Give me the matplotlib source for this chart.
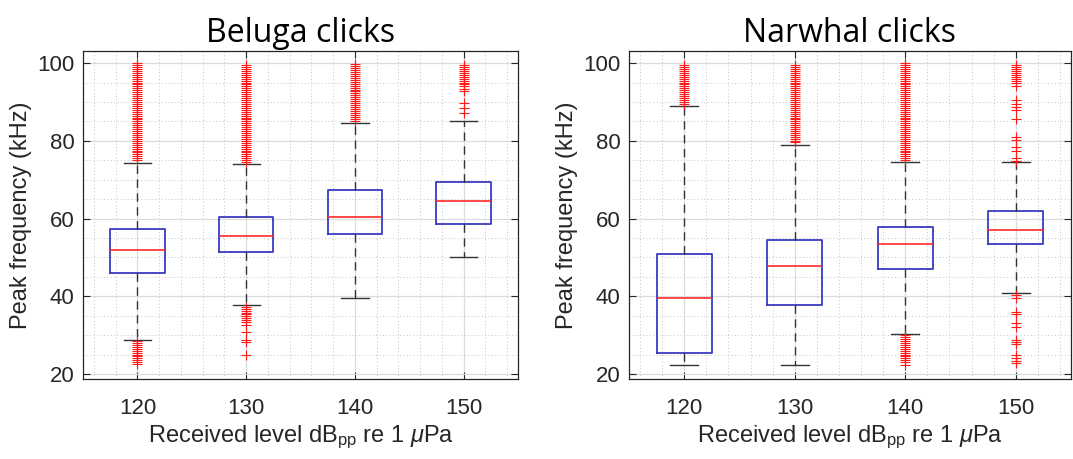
import matplotlib
matplotlib.use('Agg')
import matplotlib.pyplot as plt
from matplotlib.ticker import MultipleLocator

plt.rcParams['font.family'] = ['Liberation Sans', 'DejaVu Sans']
plt.rcParams['mathtext.fontset'] = 'custom'
plt.rcParams['mathtext.rm'] = 'Liberation Sans'
plt.rcParams['mathtext.it'] = 'Liberation Sans:italic'

levels = ['120', '130', '140', '150']

# beluga box stats (kHz)
bel_whislo = [28.8, 37.8, 39.5, 50.0]
bel_q1 = [46.0, 51.5, 56.0, 58.6]
bel_med = [52.0, 55.4, 60.5, 64.5]
bel_q3 = [57.4, 60.5, 67.4, 69.3]
bel_whishi = [74.4, 74.0, 84.6, 85.2]
bel_fliers = [
    [75, 75.5, 76, 76.5, 77, 77.5, 78, 78.5, 79, 79.5, 80, 80.5, 81, 81.5, 82, 82.5, 83, 83.5, 84, 84.5,
     85, 85.5, 86, 86.5, 87, 87.5, 88, 88.5, 89, 89.5, 90, 90.5, 91, 91.5, 92, 92.5, 93, 93.5, 94, 94.5,
     95, 95.5, 96, 96.5, 97, 97.5, 98, 98.5, 99, 99.5, 100,
     22.5, 23, 23.5, 24, 24.5, 25, 25.5, 26, 26.5, 27, 27.5, 28, 28.4],
    [74.5, 75, 75.5, 76, 76.5, 77, 77.5, 78, 78.5, 79, 79.5, 80, 80.5, 81, 81.5, 82, 82.5, 83, 83.5, 84,
     84.5, 85, 85.5, 86, 86.5, 87, 87.5, 88, 88.5, 89, 89.5, 90, 90.5, 91, 91.5, 92, 92.5, 93, 93.5, 94,
     94.5, 95, 95.5, 96, 96.5, 97, 97.5, 98, 98.5, 99, 99.5,
     37.3, 36.8, 36.3, 35.8, 35.3, 34.8, 34.3, 33.8, 33.3, 32.5, 30.7, 28.8, 28.3, 25.0],
    [85.2, 85.7, 86.2, 86.7, 87.2, 87.7, 88.2, 88.7, 89.2, 89.7, 90.2, 90.7, 91.2, 91.7, 92.2, 92.7,
     93.2, 93.7, 94.2, 94.7, 95.2, 95.7, 96.2, 96.7, 97.2, 97.7, 98.2, 98.7, 99.2, 99.7],
    [87.1, 88.4, 89.7, 92.7, 93.3, 94.0, 94.5, 95, 95.5, 96, 96.5, 97, 97.5, 98, 98.5, 99, 99.5],
]

# narwhal box stats (kHz)
nar_whislo = [22.4, 22.4, 30.4, 40.8]
nar_q1 = [25.4, 37.8, 47.0, 53.5]
nar_med = [39.5, 47.9, 53.5, 57.0]
nar_q3 = [50.9, 54.4, 57.9, 61.9]
nar_whishi = [89.0, 79.0, 74.5, 74.5]
nar_fliers = [
    [89.6, 90, 90.5, 91, 91.5, 92, 92.5, 93, 93.5, 94, 94.5, 95, 95.5, 96, 96.5, 97, 97.5, 98, 98.5,
     99, 99.5],
    [79.6, 80, 80.5, 81, 81.5, 82, 82.5, 83, 83.5, 84, 84.5, 85, 85.5, 86, 86.5, 87, 87.5, 88, 88.5,
     89, 89.5, 90, 90.5, 91, 91.5, 92, 92.5, 93, 93.5, 94, 94.5, 95, 95.5, 96, 96.5, 97, 97.5, 98,
     98.5, 99, 99.5],
    [75, 75.5, 76, 76.5, 77, 77.5, 78, 78.5, 79, 79.5, 80, 80.5, 81, 81.5, 82, 82.5, 83, 83.5, 84, 84.5,
     85, 85.5, 86, 86.5, 87, 87.5, 88, 88.5, 89, 89.5, 90, 90.5, 91, 91.5, 92, 92.5, 93, 93.5, 94, 94.5,
     95, 95.5, 96, 96.5, 97, 97.5, 98, 98.5, 99, 99.5, 100,
     30.0, 29.5, 29.0, 28.5, 28.0, 27.5, 27.0, 26.5, 26.0, 25.5, 25.0, 24.5, 24.0, 23.5, 23.0, 22.2],
    [74.9, 75.6, 77.3, 78.3, 80.3, 81.1, 85.6, 88.0, 88.8, 89.6, 90.6, 94.0, 95, 95.5, 96, 96.5, 97,
     97.5, 98, 98.5, 99, 99.5,
     40.3, 39.5, 36.0, 35.5, 33.0, 32.0, 28.8, 28.2, 27.8, 25.0, 24.1, 23.4, 22.8],
]


def make_stats(whislo, q1, med, q3, whishi, fliers):
    stats = []
    for i in range(len(med)):
        stats.append(dict(whislo=whislo[i], q1=q1[i], med=med[i], q3=q3[i],
                          whishi=whishi[i], fliers=fliers[i]))
    return stats


def draw_panel(ax, stats, title):
    ax.bxp(stats, positions=[1, 2, 3, 4], widths=0.5, capwidths=0.25,
           boxprops=dict(color='#3a3ac0', lw=1.3),
           medianprops=dict(color='#ff2a2a', lw=1.2),
           whiskerprops=dict(color='#333333', lw=1.0, linestyle=(0, (6, 4))),
           capprops=dict(color='#333333', lw=1.0),
           flierprops=dict(marker='+', markeredgecolor='#ff1a1a', markersize=7,
                           markeredgewidth=0.8, linestyle='none'))
    ax.set_xlim(0.5, 4.5)
    ax.set_ylim(18.7, 103.2)
    ax.set_xticks([1, 2, 3, 4])
    ax.set_xticklabels(levels)
    ax.set_yticks([20, 40, 60, 80, 100])
    ax.xaxis.set_minor_locator(MultipleLocator(0.2))
    ax.yaxis.set_minor_locator(MultipleLocator(5))
    ax.set_axisbelow(True)
    ax.grid(True, which='major', color='#dcdcdc', lw=0.9)
    ax.grid(True, which='minor', color='#c4c4c4', lw=0.7, linestyle=(0, (1, 2.5)))
    ax.tick_params(which='both', direction='in', top=True, right=True,
                   labelsize=16, colors='#262626', length=5)
    ax.tick_params(which='minor', length=0)
    ax.tick_params(axis='x', pad=14)
    ax.tick_params(axis='y', pad=6)
    for s in ax.spines.values():
        s.set_color('#262626')
        s.set_linewidth(0.9)
    ax.set_ylabel('Peak frequency (kHz)', fontsize=17, color='#262626', labelpad=4)
    ax.set_xlabel(r'Received level dB$_{\rm pp}$ re 1 $\mu$Pa', fontsize=17,
                  color='#262626', labelpad=3)
    ax.set_title(title, fontsize=23, family=['Open Sans', 'DejaVu Sans'], pad=6)


fig = plt.figure(figsize=(10.73, 4.59), dpi=100)
ax1 = fig.add_axes([0.0774, 0.1743, 0.4054, 0.7153])
ax2 = fig.add_axes([0.5862, 0.1743, 0.4119, 0.7153])

draw_panel(ax1, make_stats(bel_whislo, bel_q1, bel_med, bel_q3, bel_whishi, bel_fliers), 'Beluga clicks')
draw_panel(ax2, make_stats(nar_whislo, nar_q1, nar_med, nar_q3, nar_whishi, nar_fliers), 'Narwhal clicks')

fig.savefig('out.png', dpi=100)
